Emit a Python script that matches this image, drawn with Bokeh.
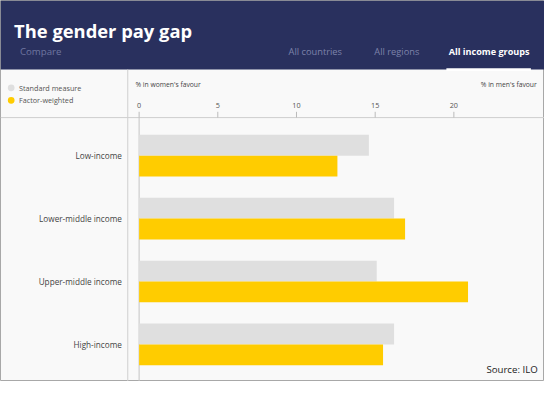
from bokeh.plotting import figure
from bokeh.models import Range1d
from bokeh.core.properties import value
from bokeh.embed import file_html
from bokeh.resources import INLINE

# ---- data ----
categories = ["Low-income", "Lower-middle income", "Upper-middle income", "High-income"]
standard_measure = [14.6, 16.2, 15.1, 16.2]
factor_weighted = [12.6, 16.9, 20.9, 15.5]
tick_values = [0, 5, 10, 15, 20]
tick_labels = ["0", "5", "10", "15", "20"]
tabs = ["All countries", "All regions", "All income groups"]
legend_labels = ["Standard measure", "Factor-weighted"]

# ---- layout (reference pixel geometry 560x397, scaled to fit) ----
REF_W, REF_H = 560, 397
W, H = 544, 381
S = (W / REF_W + H / REF_H) / 2
def fs(px):
    return f"{px * S:.2f}px"

ZERO_PX = 142.7          # pixel x of value 0
PX_PER_UNIT = 16.2
ROW0 = 161.7             # pixel y of first category centre
ROW_STEP = 65.55
BAR_PX = 21.7

FONT = value("Open Sans")
NAVY = "#29305e"
GREY_BAR = "#dfdfdf"
YELLOW = "#ffcc00"
BG = "#f9f9f9"

x_start = -ZERO_PX / PX_PER_UNIT
x_end = (REF_W - ZERO_PX) / PX_PER_UNIT
y_top = -ROW0 / ROW_STEP
y_bottom = (REF_H - ROW0) / ROW_STEP
bar_h = BAR_PX / ROW_STEP

p = figure(width=W, height=H, output_backend="svg", toolbar_location=None,
           x_range=Range1d(x_start, x_end), y_range=Range1d(y_bottom, y_top),
           min_border=0, x_axis_type=None, y_axis_type=None,
           background_fill_color=BG, border_fill_color=BG,
           outline_line_color="#a8a8a8", outline_line_width=1)
p.grid.visible = False
p.extra_x_ranges = {"px": Range1d(0, REF_W)}
p.extra_y_ranges = {"py": Range1d(REF_H, 0)}

idx = list(range(len(categories)))

# header
p.quad(left=[0], right=[REF_W], top=[0], bottom=[72], fill_color=NAVY, line_color=None,
       x_range_name="px", y_range_name="py")
p.text(x=[14], y=[31], text=["The gender pay gap"], text_font=FONT, text_font_size=fs(19),
       text_font_style="bold", text_color="white", text_baseline="middle",
       x_range_name="px", y_range_name="py")
p.text(x=[20], y=[53], text=["Compare"], text_font=FONT, text_font_size=fs(10),
       text_color="#6f76a0", text_baseline="middle", x_range_name="px", y_range_name="py")
p.text(x=[324, 408, 503], y=[53.5, 53.5, 53.5], text=tabs, text_font=FONT,
       text_font_size=[fs(9.6), fs(9.6), fs(9.4)],
       text_color=["#7d83aa", "#7d83aa", "white"], text_font_style=["normal", "normal", "bold"],
       text_align="center", text_baseline="middle", x_range_name="px", y_range_name="py")
p.quad(left=[459], right=[546], top=[70.5], bottom=[73.5], fill_color="white", line_color=None,
       x_range_name="px", y_range_name="py")

# separators
p.segment(x0=[0], x1=[REF_W], y0=[122], y1=[122], line_color="#cfcfcf", line_width=1,
          x_range_name="px", y_range_name="py")
p.segment(x0=[131], x1=[131], y0=[72], y1=[REF_H], line_color="#cfcfcf", line_width=1,
          x_range_name="px", y_range_name="py")

# legend
p.scatter(x=[11, 11], y=[91, 104], size=7 * S, marker="circle",
          fill_color=[GREY_BAR, YELLOW], line_color=None, x_range_name="px", y_range_name="py")
p.text(x=[19, 19], y=[91, 104], text=legend_labels, text_font=FONT, text_font_size=fs(7.5),
       text_color="#555555", text_baseline="middle", x_range_name="px", y_range_name="py")

# axis notes
p.text(x=[139], y=[88], text=["% in women's favour"], text_font=FONT, text_font_size=fs(7),
       text_color="#444444", text_baseline="middle", x_range_name="px", y_range_name="py")
p.text(x=[552], y=[88], text=["% in men's favour"], text_font=FONT, text_font_size=fs(7),
       text_color="#444444", text_align="right", text_baseline="middle",
       x_range_name="px", y_range_name="py")

# ticks (data x, pixel y)
p.segment(x0=tick_values, x1=tick_values, y0=[116] * len(tick_values), y1=[122] * len(tick_values),
          line_color="#bbbbbb", line_width=1, y_range_name="py")
p.text(x=tick_values, y=[109] * len(tick_values), text=tick_labels, text_font=FONT,
       text_font_size=fs(7.5), text_color="#555555", text_align="center",
       text_baseline="middle", y_range_name="py")

# zero line
p.segment(x0=[0], x1=[0], y0=[122], y1=[REF_H], line_color="#c4c4c4", line_width=1,
          y_range_name="py")

# bars
p.hbar(y=[i - bar_h / 2 for i in idx], left=0, right=standard_measure, height=bar_h,
       fill_color=GREY_BAR, line_color=None)
p.hbar(y=[i + bar_h / 2 for i in idx], left=0, right=factor_weighted, height=bar_h,
       fill_color=YELLOW, line_color=None)

# category labels (pixel x, category y)
p.text(x=[125] * len(categories), y=idx, text=categories, text_font=FONT,
       text_font_size=fs(8.5), text_color="#444444", text_align="right",
       text_baseline="middle", x_range_name="px")

# source
p.text(x=[553], y=[385], text=["Source: ILO"], text_font=FONT, text_font_size=fs(10),
       text_color="#222222", text_align="right", text_baseline="middle",
       x_range_name="px", y_range_name="py")

open("out.html", "w").write(file_html(p, INLINE))
